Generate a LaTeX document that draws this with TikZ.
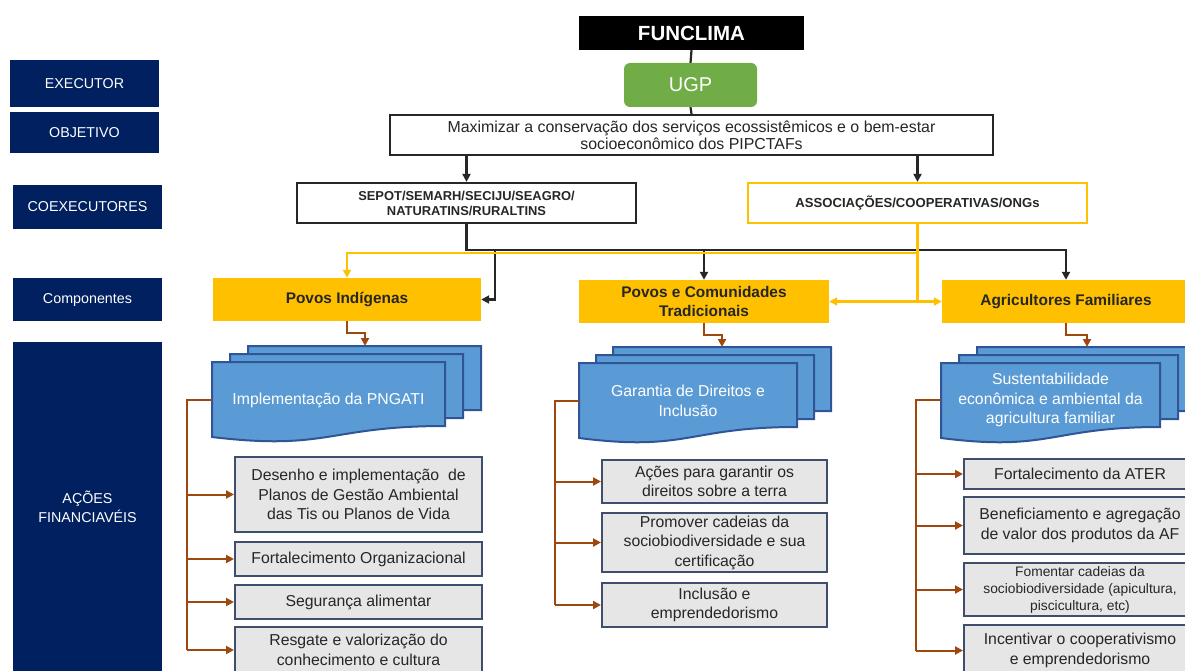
\documentclass[tikz,border=0pt]{standalone}
\usepackage{fontspec}
\setmainfont{Liberation Sans}
\usetikzlibrary{arrows.meta,positioning}
\definecolor{PlanNavy}{HTML}{002060}
\definecolor{PlanGold}{HTML}{FFC000}
\definecolor{PlanGreen}{HTML}{70AD47}
\definecolor{PlanBlue}{HTML}{5B9BD5}
\definecolor{PlanBlueDark}{HTML}{2F5597}
\definecolor{PlanGrey}{HTML}{E7E6E6}
\definecolor{PlanSlate}{HTML}{3E4E6C}
\definecolor{PlanBrown}{HTML}{9E480E}
\definecolor{PlanInk}{HTML}{262626}
\tikzset{
  sidebox/.style={fill=PlanNavy,text=white,align=center,inner sep=2pt,font=\fontsize{14.3}{19}\selectfont},
  topbox/.style={draw=black!85,line width=2.2pt,fill=white,align=center,inner sep=2pt,text=PlanInk},
  compbox/.style={fill=PlanGold,align=center,inner sep=2pt,text=PlanInk,font=\bfseries\fontsize{15.4}{19}\selectfont},
  actbox/.style={draw=PlanSlate,line width=2pt,fill=PlanGrey,align=center,inner sep=2pt,text=PlanInk,font=\fontsize{15.8}{19.5}\selectfont},
  docsheet/.style={draw=PlanBlueDark,line width=2pt,fill=PlanBlue},
  doctext/.style={text=white,align=center,inner sep=0pt,font=\fontsize{15.8}{19.5}\selectfont},
  blkline/.style={draw=black!85,line width=2.2pt},
  blkarrow/.style={blkline,-{Triangle[length=8pt,width=8pt]}},
  goldline/.style={draw=PlanGold,line width=2.2pt},
  goldarrow/.style={goldline,-{Triangle[length=8pt,width=8pt]}},
  brnline/.style={draw=PlanBrown,line width=2pt},
  brnarrow/.style={brnline,-{Triangle[length=8pt,width=8pt]}}
}
% one sheet of a document stack, top left corner #1,#2 and width #3
\newcommand{\docsheet}[3]{%
  \draw[docsheet] (#1,#2) -- ({#1+#3},#2) -- ({#1+#3},{#2+64})
    .. controls ({#1+0.5*#3},{#2+64}) and ({#1+0.5*#3},{#2+89}) .. (#1,{#2+75}) -- cycle;}

\begin{document}
\begin{tikzpicture}[x=1pt,y=-1pt]
\useasboundingbox (0,0) rectangle (1185,671);
\clip (0,0) rectangle (1185,671);

% left column
\node[sidebox,minimum width=149pt,minimum height=47pt] (exe) at (84.5,83.5) {EXECUTOR};
\node[sidebox,minimum width=149pt,minimum height=41pt] (obj) at (84.5,132.5) {OBJETIVO};
\node[sidebox,minimum width=149pt,minimum height=44pt] (coex) at (87.5,207) {COEXECUTORES};
\node[sidebox,minimum width=149pt,minimum height=43pt] (comp) at (87.5,299.5) {Componentes};
\node[sidebox,minimum width=149pt,minimum height=330pt] (acoes) at (87.5,507) {AÇÕES\\FINANCIAVÉIS};

% top of the chart
\node[fill=black,text=white,minimum width=225pt,minimum height=34pt,font=\bfseries\fontsize{20.5}{22}\selectfont] (fun) at (691.5,33) {FUNCLIMA};
\node[fill=PlanGreen,text=white,rounded corners=6pt,minimum width=133pt,minimum height=44pt,font=\fontsize{20}{22}\selectfont] (ugp) at (690.5,85) {UGP};
\node[topbox,minimum width=603pt,minimum height=40pt,font=\fontsize{15.9}{17}\selectfont] (goal) at (691.5,135) {Maximizar a conservação dos serviços ecossistêmicos e o bem-estar\\socioeconômico dos PIPCTAFs};
\node[topbox,minimum width=339pt,minimum height=40pt,font=\bfseries\fontsize{12.9}{15}\selectfont] (sepot) at (466.5,203) {SEPOT/SEMARH/SECIJU/SEAGRO/\\NATURATINS/RURALTINS};
\node[topbox,draw=PlanGold,minimum width=339pt,minimum height=40pt,font=\bfseries\fontsize{13.1}{15}\selectfont] (assoc) at (917.5,203) {ASSOCIAÇÕES/COOPERATIVAS/ONGs};

% components
\node[compbox,minimum width=268pt,minimum height=43pt] (pi) at (347,299.5) {Povos Indígenas};
\node[compbox,minimum width=250pt,minimum height=43pt] (pct) at (704,301.5) {Povos e Comunidades\\Tradicionais};
\node[compbox,minimum width=248pt,minimum height=43pt] (af) at (1066,301.5) {Agricultores Familiares};

% document stacks
\docsheet{248}{346}{233}
\docsheet{230}{354}{233}
\docsheet{212}{362}{233}
\node[doctext,minimum width=233pt,minimum height=76pt] (pidoc) at (328.5,400) {Implementação da PNGATI};
\coordinate (pitop) at (365,346);
\docsheet{613}{347}{218}
\docsheet{596}{355}{218}
\docsheet{579}{363}{218}
\node[doctext,minimum width=218pt,minimum height=76pt] (pctdoc) at (688,401) {Garantia de Direitos e\\Inclusão};
\coordinate (pcttop) at (722,347);
\docsheet{977}{347}{219}
\docsheet{959}{355}{219}
\docsheet{941}{363}{219}
\node[doctext,minimum width=219pt,minimum height=76pt] (afdoc) at (1050.5,400) {Sustentabilidade\\econômica e ambiental da\\agricultura familiar};
\coordinate (aftop) at (1087,347);

% financeable actions
\node[actbox,minimum width=247pt,minimum height=75pt] (pia) at (358.5,494.5) {Desenho e implementação\ \ de\\Planos de Gestão Ambiental\\das Tis ou Planos de Vida};
\node[actbox,minimum width=247pt,minimum height=34pt] (pib) at (358.5,559) {Fortalecimento Organizacional};
\node[actbox,minimum width=247pt,minimum height=34pt] (pic) at (358.5,602) {Segurança alimentar};
\node[actbox,minimum width=247pt,minimum height=46pt] (pid) at (358.5,650) {Resgate e valorização do\\conhecimento e cultura};
\node[actbox,minimum width=225pt,minimum height=43pt] (pcta) at (714.5,481.5) {Ações para garantir os\\direitos sobre a terra};
\node[actbox,minimum width=225pt,minimum height=59pt] (pctb) at (714.5,542.5) {Promover cadeias da\\sociobiodiversidade e sua\\certificação};
\node[actbox,minimum width=225pt,minimum height=44pt] (pctc) at (714.5,605) {Inclusão e\\emprendedorismo};
\node[actbox,minimum width=232pt,minimum height=30pt] (afa) at (1080,474) {Fortalecimento da ATER};
\node[actbox,minimum width=232pt,minimum height=57pt] (afb) at (1080,525.5) {Beneficiamento e agregação\\de valor dos produtos da AF};
\node[actbox,minimum width=232pt,minimum height=53pt,font=\fontsize{13.8}{17}\selectfont] (afc) at (1080,589.5) {Fomentar cadeias da\\sociobiodiversidade (apicultura,\\piscicultura, etc)};
\node[actbox,minimum width=232pt,minimum height=51pt] (afd) at (1080,650.5) {Incentivar o cooperativismo\\e emprendedorismo};

% black links
\draw[blkline] (fun.south) -- (ugp.north);
\draw[blkline] (ugp.south) -- (goal.north);
\draw[blkarrow] (goal.south -| sepot.north) -- (sepot.north);
\draw[blkarrow] (goal.south -| assoc.north) -- (assoc.north);
\coordinate (blkbus) at (0,250);
\coordinate (pitap) at (495,300);
\draw[blkarrow] (sepot.south) |- (blkbus -| af.north) -- (af.north);
\draw[blkarrow] (blkbus -| pct.north) -- (pct.north);
\draw[blkarrow] (blkbus -| pitap) -- (pitap |- pi.east) -- (pi.east);

% gold links
\coordinate (goldbus) at (0,253);
\draw[goldline] (assoc.south) -- (assoc.south |- pct.east);
\draw[goldarrow] (goldbus -| assoc.south) -| (pi.north);
\draw[goldarrow,{Triangle[length=8pt,width=8pt]}-{Triangle[length=8pt,width=8pt]}] (pct.east) -- (af.west);

% brown links
\draw[brnarrow] (pi.south) -- ++(0,12) -| (pitop);
\draw[brnarrow] (pct.south) -- ++(0,12) -| (pcttop);
\draw[brnarrow] (af.south) -- ++(0,12) -| (aftop);
\coordinate (pirail) at (187,0);
\coordinate (pctrail) at (555,0);
\coordinate (afrail) at (916,0);
\draw[brnline] (pidoc.west) -| (pirail |- pid.west);
\draw[brnline] (pctdoc.west) -| (pctrail |- pctc.west);
\draw[brnline] (afdoc.west) -| (afrail |- afd.west);
\foreach \b in {pia,pib,pic,pid}
  \draw[brnarrow] (pirail |- \b.west) -- (\b.west);
\foreach \b in {pcta,pctb,pctc}
  \draw[brnarrow] (pctrail |- \b.west) -- (\b.west);
\foreach \b in {afa,afb,afc,afd}
  \draw[brnarrow] (afrail |- \b.west) -- (\b.west);
\end{tikzpicture}
\end{document}
